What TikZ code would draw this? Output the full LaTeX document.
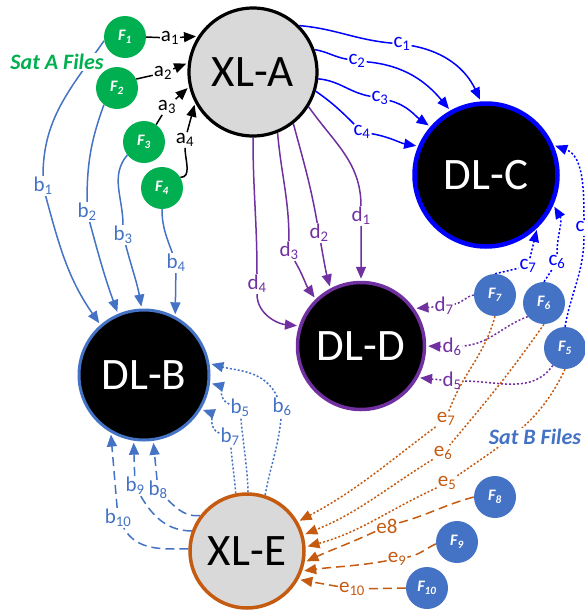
\documentclass[tikz,border=0pt]{standalone}
\usepackage{fontspec}
\setmainfont{Carlito}
\usetikzlibrary{arrows.meta}
\definecolor{satgreen}{HTML}{00B050}
\definecolor{satblue}{HTML}{4472C4}
\definecolor{dlcblue}{HTML}{0000FF}
\definecolor{dlpurple}{HTML}{7030A0}
\definecolor{xlorange}{HTML}{C55A11}
\definecolor{xlgray}{HTML}{D9D9D9}
\pgfdeclarelayer{edges}
\pgfsetlayers{edges,main}
\begin{document}
\begin{tikzpicture}[x=1pt,y=1pt,
  hub/.style={circle, inner sep=0pt, font=\fontsize{45}{50}\selectfont},
  xlnode/.style={hub, fill=xlgray, text=black},
  dlnode/.style={hub, fill=black, text=white},
  fnode/.style={circle, minimum size=42pt, inner sep=0pt, text=white,
    font=\fontsize{16}{18}\selectfont\bfseries\itshape},
  lbl/.style={inner sep=1pt, font=\fontsize{21}{24}\selectfont},
  satlbl/.style={fill=white, inner sep=1pt, text depth=0pt,
    font=\fontsize{22}{24}\selectfont\bfseries\itshape},
  arr/.style={-{Triangle[length=12pt,width=10pt]}, shorten >=2pt},
  link/.style={line width=1.5pt},
  dotline/.style={dash pattern=on 2pt off 2pt},
  dashline/.style={dash pattern=on 9pt off 5pt},
]
\useasboundingbox (0,0) rectangle (585,-611);

% group captions
\node[satlbl, text=satgreen] (satA) at (57,-62) {Sat A Files};
\node[satlbl, text=satblue] (satB) at (535,-437) {Sat B Files};

% hubs
\node[xlnode, draw=black, line width=3.2pt, minimum size=128pt] (XLA) at (253,-72) {XL-A};
\node[dlnode, draw=dlcblue, line width=4.5pt, minimum size=143pt] (DLC) at (486,-175) {DL-C};
\node[dlnode, draw=dlpurple, line width=3.5pt, minimum size=127pt] (DLD) at (361,-346) {DL-D};
\node[dlnode, draw=satblue, line width=3pt, minimum size=130pt] (DLB) at (144,-375) {DL-B};
\node[xlnode, draw=xlorange, line width=3.5pt, minimum size=114pt] (XLE) at (247,-551) {XL-E};

% file nodes
\node[fnode, fill=satgreen] (F1) at (125,-37) {F\textsubscript{1}};
\node[fnode, fill=satgreen] (F2) at (117,-88) {F\textsubscript{2}};
\node[fnode, fill=satgreen] (F3) at (144,-142) {F\textsubscript{3}};
\node[fnode, fill=satgreen] (F4) at (162,-188) {F\textsubscript{4}};
\node[fnode, fill=satblue] (F5) at (565,-348) {F\textsubscript{5}};
\node[fnode, fill=satblue] (F6) at (544,-303) {F\textsubscript{6}};
\node[fnode, fill=satblue] (F7) at (495,-295) {F\textsubscript{7}};
\node[fnode, fill=satblue] (F8) at (495,-497) {F\textsubscript{8}};
\node[fnode, fill=satblue] (F9) at (457,-542) {F\textsubscript{9}};
\node[fnode, fill=satblue] (F10) at (427,-588) {F\textsubscript{10}};

% edge labels
\node[lbl] (la1) at (170,-38) {a\textsubscript{1}};
\node[lbl] (la2) at (163,-73) {a\textsubscript{2}};
\node[lbl] (la3) at (167,-107) {a\textsubscript{3}};
\node[lbl] (la4) at (185,-140) {a\textsubscript{4}};
\begin{scope}[every node/.append style={text=satblue}]
\node[lbl] (lb1) at (43,-186) {b\textsubscript{1}};
\node[lbl] (lb2) at (87,-212) {b\textsubscript{2}};
\node[lbl] (lb3) at (123,-235) {b\textsubscript{3}};
\node[lbl] (lb4) at (176,-263) {b\textsubscript{4}};
\node[lbl] (lb5) at (240,-408) {b\textsubscript{5}};
\node[lbl] (lb6) at (282,-407) {b\textsubscript{6}};
\node[lbl] (lb7) at (230,-437) {b\textsubscript{7}};
\node[lbl] (lb8) at (158,-490) {b\textsubscript{8}};
\node[lbl] (lb9) at (135,-486) {b\textsubscript{9}};
\node[lbl] (lb10) at (118,-518) {b\textsubscript{10}};
\end{scope}
\begin{scope}[every node/.append style={text=dlcblue}]
\node[lbl] (lc1) at (402,-44) {c\textsubscript{1}};
\node[lbl] (lc2) at (357,-61) {c\textsubscript{2}};
\node[lbl] (lc3) at (380,-98) {c\textsubscript{3}};
\node[lbl] (lc4) at (362,-132) {c\textsubscript{4}};
\node[lbl] (lc5) at (584,-228) {c\textsubscript{5}};
\node[lbl] (lc6) at (557,-262) {c\textsubscript{6}};
\node[lbl] (lc7) at (528,-266) {c\textsubscript{7}};
\end{scope}
\begin{scope}[every node/.append style={text=dlpurple}]
\node[lbl] (ld1) at (361,-216) {d\textsubscript{1}};
\node[lbl] (ld2) at (319,-233) {d\textsubscript{2}};
\node[lbl] (ld3) at (289,-251) {d\textsubscript{3}};
\node[lbl] (ld4) at (257,-284) {d\textsubscript{4}};
\node[lbl] (ld5) at (452,-381) {d\textsubscript{5}};
\node[lbl] (ld6) at (452,-347) {d\textsubscript{6}};
\node[lbl] (ld7) at (444,-306) {d\textsubscript{7}};
\end{scope}
\begin{scope}[every node/.append style={text=xlorange}]
\node[lbl] (le5) at (447,-483) {e\textsubscript{5}};
\node[lbl] (le6) at (443,-453) {e\textsubscript{6}};
\node[lbl] (le7) at (446,-419) {e\textsubscript{7}};
\node[lbl] (le8) at (387,-526) {e8};
\node[lbl] (le9) at (397,-559) {e\textsubscript{9}};
\node[lbl] (le10) at (352,-589) {e\textsubscript{10}};
\end{scope}

\begin{pgfonlayer}{edges}
% Sat A files into XL-A
\draw[link, arr] (F1.east) -- (la1) -- (XLA.147);
\draw[link, arr] (F2.25) -- (la2) -- (XLA.172);
\draw[link, arr] (F3.55) -- (la3) -- (XLA.193);
\draw[link, arr] (F4.30) to[out=0,in=-90] (la4) -- (XLA.208);
% Sat A files into DL-B
\draw[link, satblue, arr] (F1.190) to[out=235,in=90] (lb1) to[out=-75,in=125] (DLB.131);
\draw[link, satblue, arr] (F2.232) to[out=250,in=90] (lb2) to[out=-75,in=110] (DLB.113);
\draw[link, satblue, arr] (F3.218) to[out=230,in=90] (lb3) to[out=-75,in=100] (DLB.92);
\draw[link, satblue, arr] (F4.south) to[out=-90,in=110] (lb4) -- (DLB.62);
% XL-A into DL-C
\draw[link, dlcblue, arr] (XLA.45) to[out=-5,in=175] (lc1) to[out=-10,in=115] (DLC.94);
\draw[link, dlcblue, arr] (XLA.20) to[out=-10,in=170] (lc2) to[out=-5,in=130] (DLC.119);
\draw[link, dlcblue, arr] (XLA.-6) to[out=-5,in=170] (lc3) to[out=-15,in=145] (DLC.139);
\draw[link, dlcblue, arr] (XLA.-17) to[out=-35,in=135] (lc4) to[out=-10,in=170] (DLC.157);
% Sat B files into DL-C
\draw[link, dotline, dlcblue, arr] (F5.north) to[out=80,in=-90] (lc5) to[out=90,in=-20] (DLC.24);
\draw[link, dotline, dlcblue, arr] (F6.north) -- (lc6) to[out=90,in=-60] (DLC.-24);
\draw[link, dotline, dlcblue, arr] (F7.north) -- (lc7) -- (DLC.-46);
% XL-A into DL-D
\draw[link, dlpurple, arr] (XLA.-32) to[out=-55,in=90] (ld1) -- (DLD.90);
\draw[link, dlpurple, arr] (XLA.-52) to[out=-75,in=100] (ld2) to[out=-80,in=105] (DLD.118);
\draw[link, dlpurple, arr] (XLA.-68) to[out=-85,in=90] (ld3) to[out=-60,in=125] (DLD.134);
\draw[link, dlpurple, arr] (XLA.-90) to[out=-90,in=90] (ld4) to[out=-90,in=175] (DLD.162);
% Sat B files into DL-D
\draw[link, dotline, dlpurple, arr] (F7.west) to[out=190,in=10] (ld7) -- (DLD.35);
\draw[link, dotline, dlpurple, arr] (F6.220) to[out=200,in=5] (ld6) -- (DLD.0);
\draw[link, dotline, dlpurple, arr] (F5.235) to[out=235,in=0] (ld5) -- (DLD.-29);
% Sat B files into XL-E
\draw[link, dotline, xlorange, arr] (F7.south) to[out=-105,in=70] (le7) to[out=217,in=28] (XLE.30);
\draw[link, dotline, xlorange, arr] (F6.south) to[out=-125,in=50] (le6) to[out=212,in=22] (XLE.16);
\draw[link, dotline, xlorange, arr] (F5.south) to[out=-115,in=35] (le5) to[out=205,in=15] (XLE.4);
\draw[link, dashline, xlorange, arr] (F8.west) to[out=195,in=15] (le8) to[out=205,in=25] (XLE.-11);
\draw[link, dashline, xlorange, arr] (F9.185) to[out=205,in=10] (le9) to[out=190,in=8] (XLE.-20);
\draw[link, dashline, xlorange, arr] (F10.west) -- (le10) -- (XLE.-29);
% XL-E into DL-B
\draw[link, dotline, satblue, arr] (XLE.89) to[out=92,in=-85] (lb5) to[out=160,in=-15] (DLB.-7);
\draw[link, dotline, satblue, arr] (XLE.72) to[out=80,in=-95] (lb6) to[out=115,in=-15] (DLB.10);
\draw[link, dotline, satblue, arr] (XLE.101) to[out=95,in=-85] (lb7) to[out=160,in=-20] (DLB.-31);
\draw[link, dashline, satblue, arr] (XLE.143) to[out=185,in=-45] (lb8) -- (DLB.-82);
\draw[link, dashline, satblue, arr] (XLE.160) to[out=180,in=-60] (lb9) -- (DLB.-99);
\draw[link, dashline, satblue, arr] (XLE.178) to[out=180,in=-60] (lb10) -- (DLB.-120);
\end{pgfonlayer}
\end{tikzpicture}
\end{document}
